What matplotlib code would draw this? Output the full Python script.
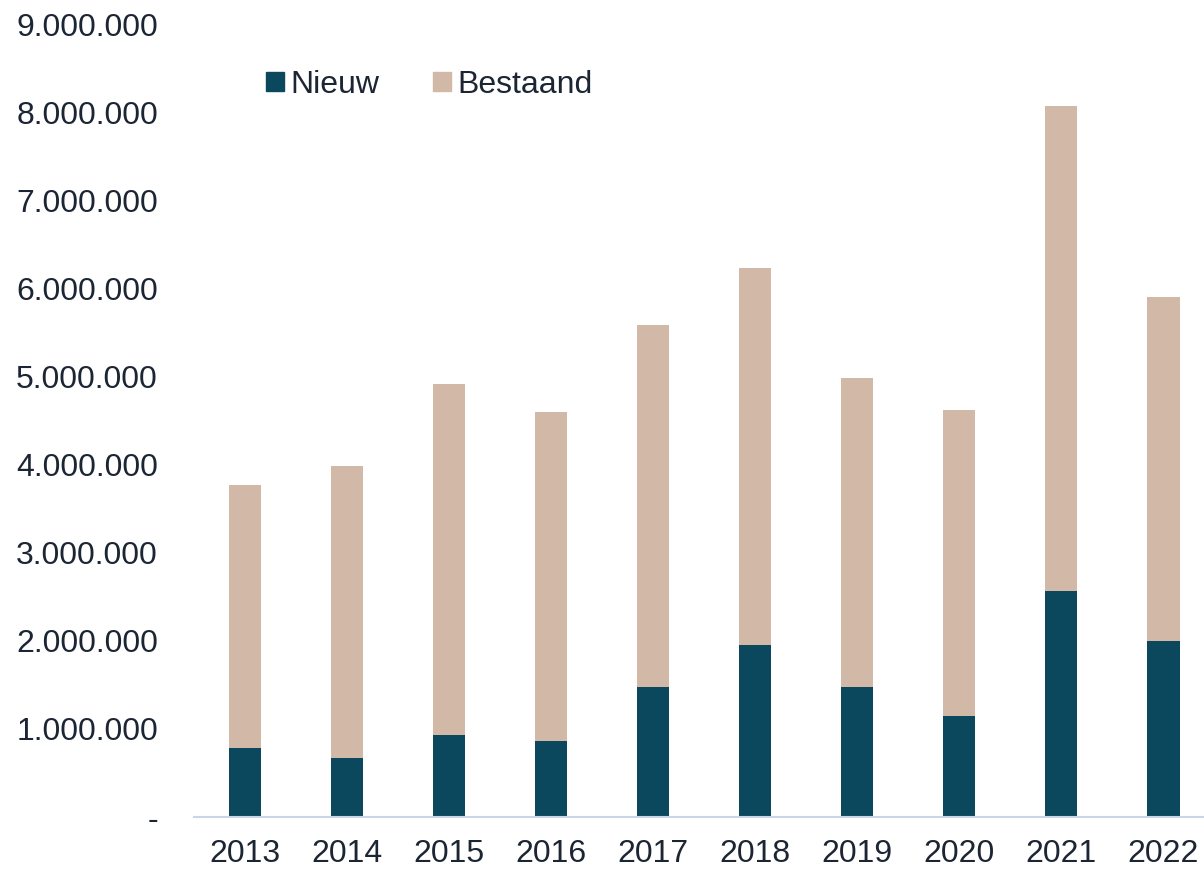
import matplotlib.pyplot as plt
from matplotlib.patches import Patch
from matplotlib.ticker import FuncFormatter

years = ['2013', '2014', '2015', '2016', '2017', '2018', '2019', '2020', '2021', '2022']
nieuw = [780000, 670000, 930000, 860000, 1480000, 1950000, 1480000, 1150000, 2570000, 2000000]
totaal = [3770000, 3990000, 4920000, 4600000, 5590000, 6240000, 4990000, 4630000, 8080000, 5910000]
bestaand = [t - n for t, n in zip(totaal, nieuw)]

c_nieuw = '#0B485E'
c_best = '#D2B8A6'
txt = '#1C2533'

plt.rcParams['font.family'] = ['Liberation Sans', 'DejaVu Sans']

fig = plt.figure(figsize=(12.04, 8.69), dpi=100)
ax = fig.add_axes([194/1204, 52/869, 1 - 194/1204, 792/869])

x = range(len(years))
ax.bar(x, nieuw, width=0.32, color=c_nieuw)
ax.bar(x, bestaand, width=0.32, bottom=nieuw, color=c_best)

ax.set_xlim(-0.5, 9.4)
ax.set_ylim(0, 9000000)
ax.set_yticks(range(0, 9000001, 1000000))

def fmt(v, pos):
    if v == 0:
        return '-'
    return f'{int(v):,}'.replace(',', '.')

ax.yaxis.set_major_formatter(FuncFormatter(fmt))
ax.set_xticks(list(x))
ax.set_xticklabels(years)
ax.tick_params(axis='both', length=0, labelsize=23, colors=txt)
ax.tick_params(axis='y', pad=26)
ax.tick_params(axis='x', pad=16)

for s in ['top', 'right', 'left']:
    ax.spines[s].set_visible(False)
ax.spines['bottom'].set_color('#C9D6E6')
ax.spines['bottom'].set_linewidth(1.5)

handles = [Patch(color=c_nieuw), Patch(color=c_best)]
ax.legend(handles, ['Nieuw', 'Bestaand'], ncol=2, frameon=False, fontsize=23,
          handlelength=0.55, handleheight=0.55, handletextpad=0.2, columnspacing=1.7,
          loc='upper left', bbox_to_anchor=(0.043, 0.98), labelcolor=txt)

fig.savefig('out.png', dpi=100)
